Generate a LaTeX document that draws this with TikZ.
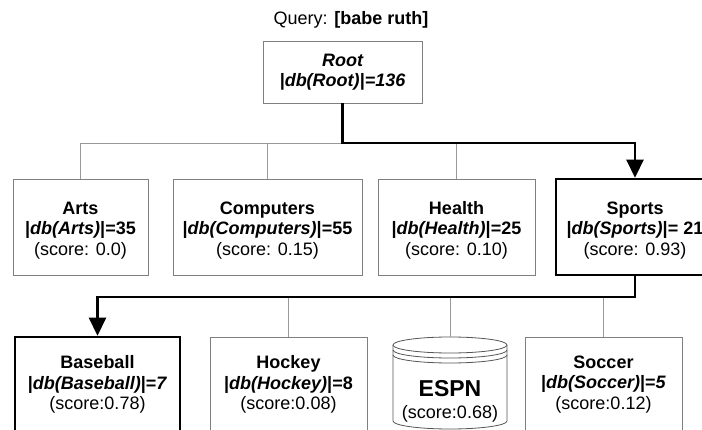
\documentclass[tikz,border=0pt]{standalone}
\usepackage{fontspec}
\setmainfont{Liberation Sans}
\usetikzlibrary{arrows.meta}
\definecolor{boxgray}{HTML}{7F7F7F}
\definecolor{linegray}{HTML}{999999}
\definecolor{cylgray}{HTML}{555555}
\newcommand{\toppad}{\rule{0pt}{19pt}}
\begin{document}
\begin{tikzpicture}[x=1pt,y=-1pt,
  txt/.style={font=\fontsize{18}{20.5}\selectfont},
  box/.style={draw=boxgray, line width=0.9pt, rectangle, inner sep=0pt, align=center, fill=white, txt},
  hibox/.style={box, draw=black, line width=2.6pt},
  thinline/.style={draw=linegray, line width=0.9pt},
  hipath/.style={draw=black, line width=2.6pt},
  arr/.style={-{Triangle[width=17pt,length=18pt]}},
  cyl/.style={draw=cylgray, line width=0.8pt, fill=white},
]
\useasboundingbox (0,0) rectangle (702,430);
\clip (0,0) rectangle (702,430);

\node[txt, inner sep=0pt] (query) at (351,20) {Query: \textbf{[babe ruth]}};

\node[box, minimum width=159pt, minimum height=62pt,
      font=\fontsize{18}{20.5}\selectfont\bfseries\itshape] (root) at (342.5,72)
  {Root\\|db(Root)|=136};

% top row
\node[box, minimum width=135pt, minimum height=96pt] (arts) at (80.5,227)
  {\toppad{\bfseries Arts}\\{\bfseries |\textit{db(Arts)}|=35}\\(score: 0.0)};
\node[box, minimum width=189pt, minimum height=96pt] (comp) at (267.5,227)
  {\toppad{\bfseries Computers}\\{\bfseries |\textit{db(Computers)}|=55}\\(score: 0.15)};
\node[box, minimum width=157pt, minimum height=96pt] (health) at (456.5,227)
  {\toppad{\bfseries Health}\\{\bfseries |\textit{db(Health)}|=25}\\(score: 0.10)};
\node[hibox, minimum width=158pt, minimum height=96pt] (sports) at (635,227)
  {\toppad{\bfseries Sports}\\{\bfseries |\textit{db(Sports)}|= 21}\\(score: 0.93)};

% bottom row
\node[hibox, minimum width=165pt, minimum height=95pt] (baseball) at (97.5,384.5)
  {{\bfseries Baseball}\\{\bfseries |\textit{db(Baseball)}|=\textit{7}}\\(score:0.78)};
\node[box, minimum width=157pt, minimum height=95pt] (hockey) at (288.5,384.5)
  {{\bfseries Hockey}\\{\bfseries |\textit{db(Hockey)}|=8}\\(score:0.08)};
\node[box, minimum width=157pt, minimum height=95pt] (soccer) at (603.5,384.5)
  {{\bfseries Soccer}\\{\bfseries |\textit{db(Soccer)}|=\textit{5}}\\(score:0.12)};

% ESPN cylinder
\node[inner sep=0pt, minimum width=114pt, minimum height=92pt] (espn) at (450,383) {};
\draw[cyl] (393,345) -- (393,421) arc[start angle=180, end angle=360, x radius=57pt, y radius=8pt] -- (507,345);
\draw[cyl] (450,345) ellipse [x radius=57pt, y radius=8pt];
\draw[cyl, fill=none] (393,350) arc[start angle=180, end angle=360, x radius=57pt, y radius=8pt];
\draw[cyl, fill=none] (393,355) arc[start angle=180, end angle=360, x radius=57pt, y radius=8pt];
\node[align=center, inner sep=0pt, font=\fontsize{18}{22}\selectfont] (espnlabel) at (450,401)
  {{\fontsize{23}{24}\selectfont\bfseries ESPN}\\(score:0.68)};

% connectors level 1
\coordinate (b1) at (342.5,143);
\draw[thinline] (arts.north) -- (arts.north |- b1) -- (b1);
\draw[thinline] (comp.north) -- (comp.north |- b1);
\draw[thinline] (health.north) -- (health.north |- b1);
\draw[hipath, arr] (root.south) -- (b1) -- (b1 -| sports.north) -- (sports.north);

% connectors level 2
\coordinate (b2) at (635,297);
\draw[thinline] (hockey.north) -- (hockey.north |- b2);
\draw[thinline] (espn.north) -- (espn.north |- b2);
\draw[thinline] (soccer.north) -- (soccer.north |- b2);
\draw[hipath, arr] (sports.south) -- (b2) -- (b2 -| baseball.north) -- (baseball.north);
\end{tikzpicture}
\end{document}
